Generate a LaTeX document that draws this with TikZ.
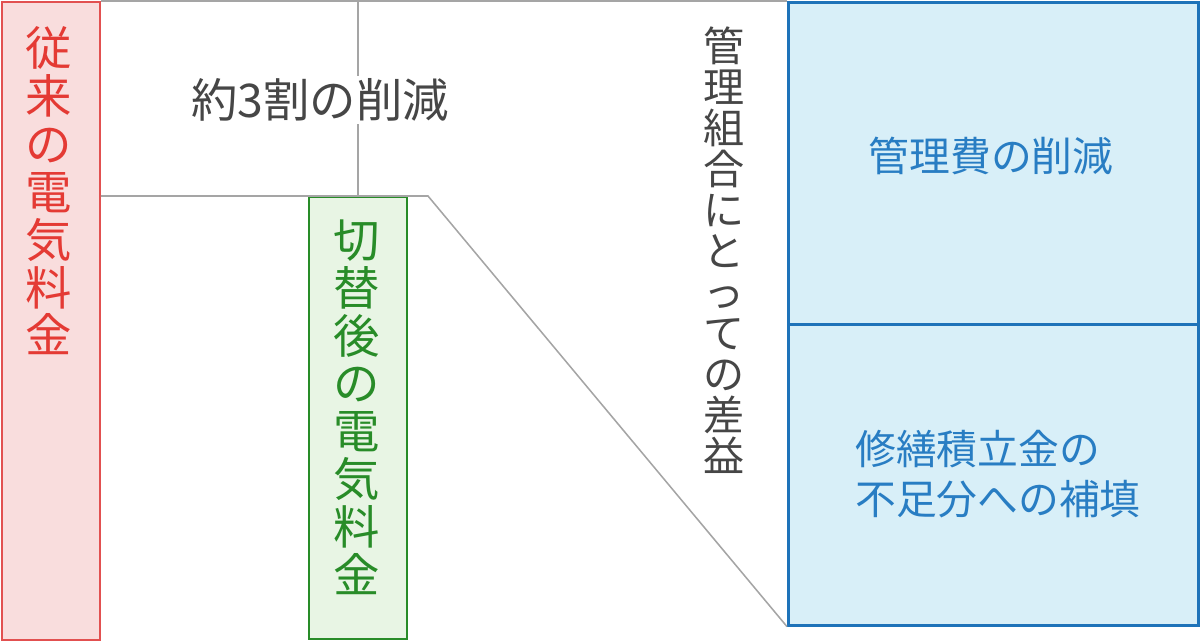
\documentclass[tikz,border=0pt]{standalone}
\usepackage{fontspec}
\setmainfont{Noto Sans CJK JP}
\usepackage{xcolor}
\usetikzlibrary{positioning}

\definecolor{oldline}{RGB}{226,80,80}
\definecolor{oldfill}{RGB}{249,221,221}
\definecolor{oldtext}{RGB}{228,58,52}
\definecolor{newline}{RGB}{40,140,40}
\definecolor{newfill}{RGB}{232,245,228}
\definecolor{feeline}{RGB}{30,115,185}
\definecolor{feefill}{RGB}{216,239,248}
\definecolor{feetext}{RGB}{40,125,195}
\definecolor{guidegray}{RGB}{165,165,165}
\definecolor{labelgray}{RGB}{70,70,70}

\begin{document}
\begin{tikzpicture}[
  x=0.025cm, y=-0.025cm,
  bar/.style={draw, line width=1.4pt, inner sep=0pt, anchor=north west},
  vtext/.style={align=center, inner sep=0pt, font=\fontsize{33}{34}\selectfont},
  htext/.style={inner sep=0pt, font=\fontsize{29}{35.6}\selectfont},
  guide/.style={draw=guidegray, line width=1.1pt}
]
  \useasboundingbox (0,0) rectangle (1200,641);

  % bars
  \node[bar, draw=oldline, fill=oldfill, minimum width=2.45cm, minimum height=15.95cm] (old) at (1,1) {};
  \node[bar, draw=newline, fill=newfill, minimum width=2.45cm, minimum height=11.05cm] (new) at (308,196) {};
  \node[bar, draw=feeline, fill=feefill, line width=1.8pt, minimum width=10.25cm, minimum height=8.05cm] (fee) at (787,1) {};
  \node[bar, draw=feeline, fill=feefill, line width=1.8pt, minimum width=10.25cm, minimum height=7.525cm] (fund) at (787,323) {};

  % guides
  \coordinate (kink) at (428,196);
  \draw[guide] (old.north east) -- (fee.north west);
  \draw[guide] (old.east |- new.north) -- (kink) -- (fund.south west);
  \draw[guide] (new.north |- old.north) -- (new.north);

  % labels
  \node[vtext, text=oldtext] (oldlbl) at (49,191) {従\\来\\の\\電\\気\\料\\金};
  \node[vtext, text=newline] (newlbl) at (357,407) {切\\替\\後\\の\\電\\気\\料\\金};
  \node[font=\fontsize{33}{34}\selectfont, text=labelgray, fill=white, inner sep=2pt] (cut) at (320,100) {約3割の削減};
  \node[vtext, text=labelgray, font=\fontsize{29.2}{29.2}\selectfont] (gain) at (724,250) {管\\理\\組\\合\\に\\と\\っ\\て\\の\\差\\益};
  \node[htext, text=feetext] (feelbl) at (991,156) {管理費の削減};
  \node[htext, text=feetext, align=left, anchor=west] (fundlbl) at (855,474) {修繕積立金の\\不足分への補填};
\end{tikzpicture}
\end{document}
